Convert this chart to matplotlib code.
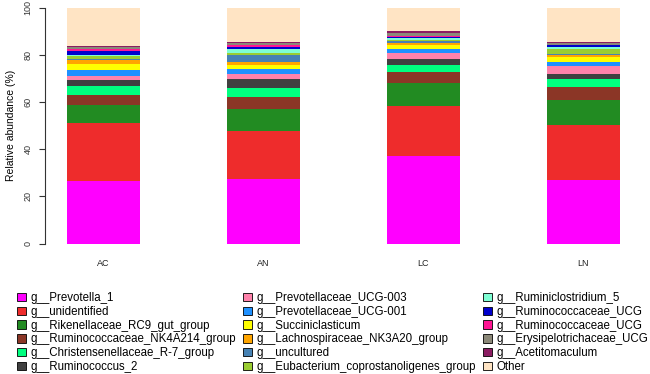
import matplotlib
matplotlib.use("Agg")
import matplotlib.pyplot as plt
import numpy as np
from matplotlib.patches import Patch

plt.rcParams["font.family"] = ["Liberation Sans", "DejaVu Sans"]

groups = ["AC", "AN", "LC", "LN"]

taxa = [
    "g__Prevotella_1",
    "g__unidentified",
    "g__Rikenellaceae_RC9_gut_group",
    "g__Ruminococcaceae_NK4A214_group",
    "g__Christensenellaceae_R-7_group",
    "g__Ruminococcus_2",
    "g__Prevotellaceae_UCG-003",
    "g__Prevotellaceae_UCG-001",
    "g__Succiniclasticum",
    "g__Lachnospiraceae_NK3A20_group",
    "g__uncultured",
    "g__Eubacterium_coprostanoligenes_group",
    "g__Ruminiclostridium_5",
    "g__Ruminococcaceae_UCG",
    "g__Ruminococcaceae_UCG",
    "g__Erysipelotrichaceae_UCG",
    "g__Acetitomaculum",
    "Other",
]

colors = [
    "#FF00FF", "#EE2C2C", "#228B22", "#8B3626", "#00FF7F", "#404040",
    "#FF82AB", "#1E90FF", "#FFFF00", "#FFA500", "#4682B4", "#9ACD32",
    "#7FFFD4", "#0000CD", "#FF1493", "#8B8878", "#8B1C62", "#FFE4C4",
]

# relative abundance (%) per taxon, columns = AC, AN, LC, LN
ac = [26.4, 24.6, 7.8, 4.2, 3.8, 2.5, 1.7, 2.8, 2.5, 1.4, 0.7, 1.1, 0.6, 1.6, 0.6, 1.0, 0.6, 16.1]
an = [27.3, 20.3, 9.5, 5.0, 4.0, 3.7, 2.1, 2.0, 1.7, 1.4, 2.8, 1.0, 1.6, 0.8, 0.8, 0.9, 0.7, 14.4]
lc = [37.3, 21.0, 9.8, 4.8, 3.0, 2.3, 2.5, 2.0, 1.3, 1.0, 0.7, 0.7, 0.6, 0.7, 0.4, 1.1, 1.0, 9.9]
ln = [27.0, 23.1, 10.8, 5.6, 3.5, 1.8, 3.4, 2.0, 1.8, 0.9, 0.6, 2.0, 0.7, 0.8, 0.3, 0.7, 0.5, 14.4]

data = np.array([ac, an, lc, ln]).T

fig = plt.figure(figsize=(6.5, 3.74), dpi=100)
ax = fig.add_axes([0.069, 0.3484, 0.915, 0.631])

x = np.arange(len(groups))
bottom = np.zeros(len(groups))
for vals, col in zip(data, colors):
    ax.bar(x, vals, width=0.456, bottom=bottom, color=col, edgecolor="none")
    bottom += vals

ax.set_xlim(-0.366, 3.353)
ax.set_ylim(0, 100)
ax.set_yticks([0, 20, 40, 60, 80, 100])
ax.set_yticklabels(["0", "20", "40", "60", "80", "100"], rotation=90, va="center", fontsize=6.5, color="#333333")
ax.set_xticks(x)
ax.set_xticklabels(groups, fontsize=6.5, color="#222222")
ax.tick_params(axis="x", length=0, pad=11)
ax.tick_params(axis="y", length=4, width=0.8, pad=5, color="#333333")
for s in ["top", "right", "bottom"]:
    ax.spines[s].set_visible(False)
ax.spines["left"].set_color("#333333")
ax.spines["left"].set_linewidth(0.8)
ax.set_ylabel("Relative abundance (%)", fontsize=7.5, labelpad=5)

handles = [Patch(facecolor=c, edgecolor="black", linewidth=0.6) for c in colors]
fig.legend(handles, taxa, loc="upper left", bbox_to_anchor=(0.018, 0.234),
           ncol=3, fontsize=8.3, frameon=False, handlelength=0.75, handleheight=0.75,
           handletextpad=0.4, columnspacing=0.6, labelspacing=0.15, borderpad=0)

fig.savefig("out.png", dpi=100)
